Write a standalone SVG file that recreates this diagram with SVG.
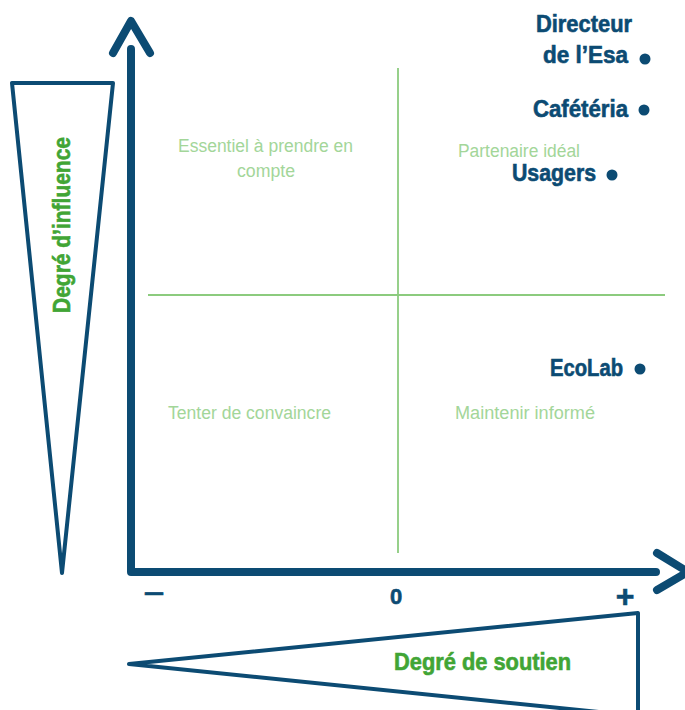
<svg xmlns="http://www.w3.org/2000/svg" width="685" height="710" viewBox="0 0 685 710">
<style>
.axis{fill:none;stroke:#0c4b73;stroke-width:8;stroke-linecap:round;stroke-linejoin:round}
.tri{fill:#fff;stroke:#0c4b73;stroke-width:4;stroke-linejoin:round}
.grid{stroke:#8ccb7e;stroke-width:1.8}
.q{font-family:"Liberation Sans Narrow","Liberation Sans",Arial,sans-serif;font-size:18px;fill:#a3d699}
.lab{font-family:"Liberation Sans Narrow","Liberation Sans",Arial,sans-serif;font-weight:bold;font-size:23px;fill:#0c4b73;stroke:#0c4b73;stroke-width:0.6}
.ax{font-family:"Liberation Sans Narrow","Liberation Sans",Arial,sans-serif;font-weight:bold;font-size:23px;fill:#41a535;stroke:#41a535;stroke-width:0.6}
.dot{fill:#0c4b73}
</style>
<rect width="685" height="710" fill="#fff"/>
<g id="influence-scale">
<polygon class="tri" points="12,83 113,83 62,573"/>
<text class="ax" transform="translate(70,225) rotate(-90)" text-anchor="middle" textLength="176" lengthAdjust="spacingAndGlyphs">Degré d’influence</text>
</g>
<g id="support-scale">
<polygon class="tri" points="129,664 638,613 638,716"/>
<text class="ax" x="394" y="670" textLength="177" lengthAdjust="spacingAndGlyphs">Degré de soutien</text>
</g>
<g id="grid">
<line class="grid" x1="398" y1="68" x2="398" y2="553"/>
<line class="grid" x1="148" y1="295" x2="665" y2="295"/>
</g>
<g id="axes">
<polyline class="axis" points="131,49 131,572 656,572"/>
<polyline class="axis" points="113,53 131,21 150,53"/>
<polyline class="axis" points="657,553 688,572 657,590"/>
<text class="lab" x="154" y="600" text-anchor="middle" textLength="20" lengthAdjust="spacingAndGlyphs">–</text>
<text class="lab" x="396" y="604" text-anchor="middle" style="font-size:22px">0</text>
<text class="lab" x="625" y="607" text-anchor="middle" style="font-size:32px">+</text>
</g>
<g id="quadrants">
<text class="q" x="178" y="152" textLength="175" lengthAdjust="spacingAndGlyphs">Essentiel à prendre en</text>
<text class="q" x="237" y="177" textLength="58" lengthAdjust="spacingAndGlyphs">compte</text>
<text class="q" x="458" y="157" textLength="122" lengthAdjust="spacingAndGlyphs">Partenaire idéal</text>
<text class="q" x="168" y="419" textLength="163" lengthAdjust="spacingAndGlyphs">Tenter de convaincre</text>
<text class="q" x="455" y="419" textLength="140" lengthAdjust="spacingAndGlyphs">Maintenir informé</text>
</g>
<g id="directeur">
<text class="lab" x="536" y="32" textLength="96" lengthAdjust="spacingAndGlyphs">Directeur</text>
<text class="lab" x="543" y="63" textLength="85" lengthAdjust="spacingAndGlyphs">de l’Esa</text>
<circle class="dot" cx="645" cy="59" r="5.5"/>
</g>
<g id="cafeteria">
<text class="lab" x="533" y="117" textLength="95" lengthAdjust="spacingAndGlyphs">Cafétéria</text>
<circle class="dot" cx="644" cy="110" r="5.5"/>
</g>
<g id="usagers">
<text class="lab" x="512" y="181" textLength="84" lengthAdjust="spacingAndGlyphs">Usagers</text>
<circle class="dot" cx="612" cy="175" r="5.5"/>
</g>
<g id="ecolab">
<text class="lab" x="550" y="376" textLength="73" lengthAdjust="spacingAndGlyphs">EcoLab</text>
<circle class="dot" cx="640" cy="369" r="5.5"/>
</g>
</svg>
